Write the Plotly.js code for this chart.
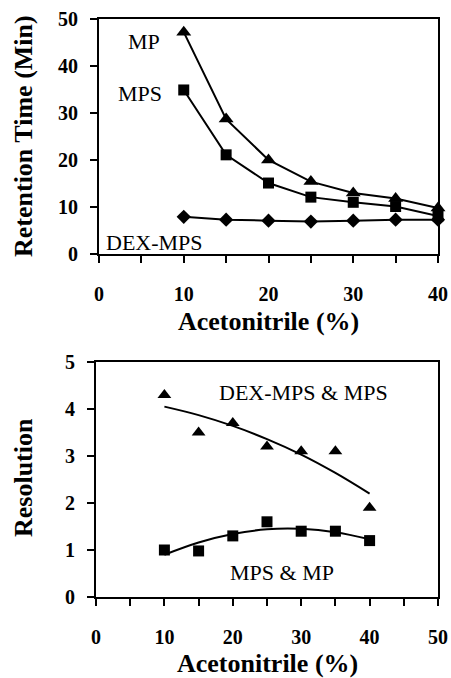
<!DOCTYPE html>
<html>
<head>
<meta charset="utf-8">
<script src="https://cdn.plot.ly/plotly-3.0.1.min.js"></script>
<style>html,body{margin:0;padding:0;background:#fff;}#chart{width:451px;height:678px;}</style>
</head>
<body>
<div id="chart"></div>
<script>
// ---- Data ----
var acetonitrile = [10, 15, 20, 25, 30, 35, 40];

// Top panel: retention time (min)
var rtMP     = [47.2, 28.7, 20.0, 15.4, 13.0, 11.8, 9.8];
var rtMPS    = [34.9, 21.1, 15.1, 12.1, 11.0, 10.1, 8.1];
var rtDEXMPS = [7.9, 7.3, 7.1, 6.9, 7.1, 7.3, 7.3];

// Bottom panel: resolution
var resDexMps = [4.3, 3.5, 3.7, 3.2, 3.1, 3.1, 1.9];
var resMpsMp  = [1.0, 0.98, 1.3, 1.6, 1.4, 1.4, 1.2];
// trend lines
var trendDexMps = [4.05, 3.87, 3.64, 3.36, 3.03, 2.64, 2.2];
var trendMpsMp  = [0.9, 1.16, 1.34, 1.44, 1.45, 1.38, 1.23];

var topXTicks = [0, 10, 20, 30, 40];
var topYTicks = [0, 10, 20, 30, 40, 50];
var botXTicks = [0, 10, 20, 30, 40, 50];
var botYTicks = [0, 1, 2, 3, 4, 5];

// ---- Layout helpers ----
var W = 451, H = 678;
function px(x) { return x / W; }
function py(y) { return 1 - y / H; }
var SERIF = 'Liberation Serif, Times New Roman, Times, DejaVu Serif, serif';

var traces = [
  {x: acetonitrile, y: rtMP, xaxis: 'x', yaxis: 'y', mode: 'lines+markers', cliponaxis: false,
   line: {color: '#000', width: 2}, marker: {symbol: 'triangle-up', size: 13, color: '#000'}},
  {x: acetonitrile, y: rtMPS, xaxis: 'x', yaxis: 'y', mode: 'lines+markers', cliponaxis: false,
   line: {color: '#000', width: 2}, marker: {symbol: 'square', size: 11, color: '#000'}},
  {x: acetonitrile, y: rtDEXMPS, xaxis: 'x', yaxis: 'y', mode: 'lines+markers', cliponaxis: false,
   line: {color: '#000', width: 2}, marker: {symbol: 'diamond', size: 11, color: '#000'}},

  {x: acetonitrile, y: trendDexMps, xaxis: 'x2', yaxis: 'y2', mode: 'lines', cliponaxis: false,
   line: {color: '#000', width: 2, shape: 'spline'}},
  {x: acetonitrile, y: trendMpsMp, xaxis: 'x2', yaxis: 'y2', mode: 'lines', cliponaxis: false,
   line: {color: '#000', width: 2, shape: 'spline'}},
  {x: acetonitrile, y: resDexMps, xaxis: 'x2', yaxis: 'y2', mode: 'markers', cliponaxis: false,
   marker: {symbol: 'triangle-up', size: 12, color: '#000'}},
  {x: acetonitrile, y: resMpsMp, xaxis: 'x2', yaxis: 'y2', mode: 'markers', cliponaxis: false,
   marker: {symbol: 'square', size: 11, color: '#000'}}
];

var tickFont = {family: SERIF, size: 20, color: '#000', weight: 'bold'};

function xAxis(domain, anchor, range, ticks) {
  return {
    domain: domain, anchor: anchor, range: range, tickmode: 'array', tickvals: ticks,
    showgrid: false, zeroline: false, showline: true, linecolor: '#000', linewidth: 2, mirror: true,
    ticks: 'outside', ticklen: 7, tickwidth: 2, tickcolor: '#000', ticklabelstandoff: 14,
    minor: {dtick: 5, ticks: 'outside', ticklen: 7, tickwidth: 2, tickcolor: '#000', showgrid: false},
    tickfont: tickFont, fixedrange: true
  };
}
function yAxis(domain, anchor, range, ticks) {
  return {
    domain: domain, anchor: anchor, range: range, tickmode: 'array', tickvals: ticks,
    showgrid: false, zeroline: false, showline: true, linecolor: '#000', linewidth: 2, mirror: true,
    ticks: 'outside', ticklen: 7, tickwidth: 2, tickcolor: '#000', ticklabelstandoff: 8,
    tickfont: tickFont, fixedrange: true
  };
}

var annFont = {family: SERIF, size: 22, color: '#000'};
var titleFont = {family: SERIF, size: 26, color: '#000', weight: 'bold'};
function ann(text, x, y, font, angle) {
  return {text: text, xref: 'paper', yref: 'paper', x: px(x), y: py(y),
          xanchor: 'center', yanchor: 'middle', showarrow: false, font: font,
          textangle: angle || 0};
}

var layout = {
  width: W, height: H,
  margin: {l: 0, r: 0, t: 0, b: 0},
  paper_bgcolor: '#fff', plot_bgcolor: '#fff',
  showlegend: false,
  xaxis: xAxis([px(99), px(438)], 'y', [0, 40], topXTicks),
  yaxis: yAxis([py(254), py(19)], 'x', [0, 50], topYTicks),
  xaxis2: xAxis([px(96), px(438)], 'y2', [0, 50], botXTicks),
  yaxis2: yAxis([py(597), py(362)], 'x2', [0, 5], botYTicks),
  annotations: [
    ann('MP', 144, 41.5, annFont),
    ann('MPS', 140, 93.5, annFont),
    ann('DEX-MPS', 154, 242, annFont),
    ann('DEX-MPS &amp; MPS', 303, 392, annFont),
    ann('MPS &amp; MP', 282, 572, annFont),
    ann('Retention Time (Min)', 24, 136, titleFont, -90),
    ann('Acetonitrile (%)', 268.5, 322, titleFont),
    ann('Resolution', 24, 478, titleFont, -90),
    ann('Acetonitrile (%)', 267, 663, titleFont)
  ]
};

Plotly.newPlot('chart', traces, layout, {displayModeBar: false, staticPlot: true});
</script>
</body>
</html>
